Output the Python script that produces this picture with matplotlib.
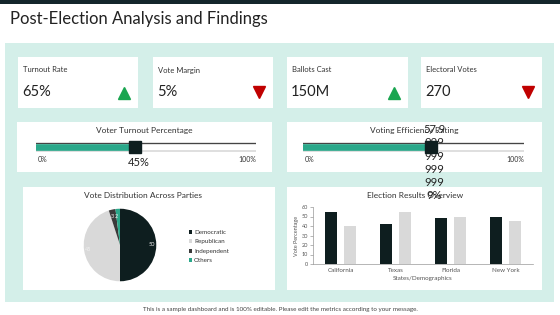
import matplotlib
matplotlib.use("Agg")
import matplotlib.pyplot as plt
from matplotlib.patches import Rectangle

plt.rcParams['font.family'] = ['Lato', 'DejaVu Sans']

# ---------------- data ----------------
title = "Post-Election Analysis and Findings"
kpi_labels = ["Turnout Rate", "Vote Margin", "Ballots Cast", "Electoral Votes"]
kpi_values = ["65%", "5%", "150M", "270"]
kpi_trend = ["up", "down", "up", "down"]

gauge_titles = ["Voter Turnout Percentage", "Voting Efficiency Rating"]
gauge_values = [45, 57.9999999999999]
gauge_texts = ["45%", "57.9\n999\n999\n999\n999\n9%"]

parties = ["Democratic", "Republican", "Independent", "Others"]
party_share = [50, 45, 3, 2]

states = ["California", "Texas", "Florida", "New York"]
series_a = [55, 42, 48, 50]
series_b = [40, 55, 50, 45]
y_ticks = [0, 10, 20, 30, 40, 50, 60]

footer = ("This is a sample dashboard and is 100% editable. "
          "Please edit the metrics according to your message.")

# ---------------- style ----------------
W, H = 560, 315
DARK = "#0e1e1f"
TEAL = "#2aa88a"
LIGHT = "#d9d9d9"
MINT = "#d4efe9"
TOPBAR = "#14262b"
GREEN = "#1aa550"
RED = "#c00000"
TXT = "#333333"

fig = plt.figure(figsize=(W / 100, H / 100), dpi=100)
bg = fig.add_axes([0, 0, 1, 1])
bg.set_xlim(0, W)
bg.set_ylim(H, 0)
bg.axis("off")


def px_axes(x0, y0, x1, y1):
    return fig.add_axes([x0 / W, 1 - y1 / H, (x1 - x0) / W, (y1 - y0) / H])


def card(x0, y0, x1, y1, color="white"):
    bg.add_patch(Rectangle((x0, y0), x1 - x0, y1 - y0, facecolor=color,
                           edgecolor="none", zorder=1))


# top bar and title
card(0, 0, W, 4, TOPBAR)
bg.text(10, 19, title, fontsize=12, color="#222222", va="center", ha="left")

# mint panel
card(5, 43, 554, 302, MINT)

# KPI cards
kpi_boxes = [(18, 138), (153, 273), (287, 408), (421, 542)]
for (x0, x1), lab, val, tr in zip(kpi_boxes, kpi_labels, kpi_values, kpi_trend):
    card(x0, 57, x1, 108)
    bg.text(x0 + 5, 70, lab, fontsize=5.5, color=TXT, va="center", ha="left", zorder=3)
    bg.text(x0 + 4, 92, val, fontsize=10.5, color="#222222", va="center",
            ha="left", zorder=3)
    if tr == "up":
        bg.plot(x1 - 14, 93, marker="^", ms=9, color=GREEN, zorder=3)
    else:
        bg.plot(x1 - 14, 92, marker="v", ms=9, color=RED, zorder=3)

# gauge cards
gauge_boxes = [(17, 272, 32, 260), (287, 542, 299, 528)]
for (cx0, cx1, tx0, tx1), gt, gv, gtxt in zip(gauge_boxes, gauge_titles,
                                            gauge_values, gauge_texts):
    card(cx0, 122, cx1, 172)
    bg.text((cx0 + cx1) / 2, 130, gt, fontsize=6, color=TXT, ha="center",
            va="center", zorder=3)
    gax = px_axes(tx0 + 4, 140, tx1 - 4, 154)
    gax.set_xlim(0, 100)
    gax.set_ylim(-1, 1)
    gax.axis("off")
    gax.plot([0, 100], [0, 0], color="#444444", lw=6, solid_capstyle="round")
    gax.plot([0, 100], [0, 0], color="white", lw=4.8, solid_capstyle="round")
    gax.plot([0, gv], [0, 0], color=TEAL, lw=4.8, solid_capstyle="round")
    gax.plot([gv], [0], marker="s", ms=8, color=DARK)
    bg.text(tx0 + 6, 160, "0%", fontsize=5, color=TXT, ha="left", va="center", zorder=3)
    bg.text(tx1 - 4, 160, "100%", fontsize=5, color=TXT, ha="right", va="center", zorder=3)

# bottom cards
card(23, 187, 275, 290)
card(287, 187, 542, 290)

# gauge value texts (drawn above everything)
gx = [32 + 4 + (260 - 32 - 8) * gauge_values[0] / 100 + 4,
      299 + 4 + (528 - 299 - 8) * gauge_values[1] / 100 + 3]
bg.text(gx[0], 163, gauge_texts[0], fontsize=8, color="#222222", ha="center",
        va="center", zorder=10)
bg.text(gx[1], 124, gauge_texts[1], fontsize=8, color="#222222", ha="center",
        va="top", zorder=10, linespacing=1.25)

# pie
bg.text(143, 196, "Vote Distribution Across Parties", fontsize=6, color=TXT,
        ha="center", va="center", zorder=3)
pax = px_axes(83, 208, 157, 282)
wedges, texts = pax.pie(party_share, labels=[str(v) for v in party_share],
                        colors=[DARK, LIGHT, "#3a3a3a", TEAL], startangle=90,
                        counterclock=False, labeldistance=0.8,
                        textprops=dict(fontsize=4, color="#f0f0f0"))
pax.set_xlim(-1.02, 1.02)
pax.set_ylim(-1.02, 1.02)
fig.legend(wedges, parties, loc="upper left", bbox_to_anchor=(183 / W, 1 - 224 / H),
           frameon=False, fontsize=4.5, handlelength=0.6, handleheight=0.6,
           handletextpad=0.3, labelspacing=0.7, labelcolor=TXT)

# bar chart
bg.text(415, 196, "Election Results Overview", fontsize=6, color=TXT,
        ha="center", va="center", zorder=3)
bax = px_axes(313, 207, 533, 264)
xs = range(len(states))
bw = 0.22
bax.bar([x - 0.18 for x in xs], series_a, width=bw, color=DARK)
bax.bar([x + 0.18 for x in xs], series_b, width=bw, color=LIGHT)
bax.set_xlim(-0.5, len(states) - 0.5)
bax.set_ylim(0, 60)
bax.set_yticks(y_ticks)
bax.set_xticks(list(xs))
bax.set_xticklabels(states)
for s in ["top", "right"]:
    bax.spines[s].set_visible(False)
for s in ["left", "bottom"]:
    bax.spines[s].set_color("#999999")
    bax.spines[s].set_linewidth(0.5)
bax.tick_params(axis="y", labelsize=4, length=2, width=0.5, color="#999999",
                labelcolor="#555555", pad=1.5)
bax.tick_params(axis="x", labelsize=4.5, length=0, labelcolor="#555555", pad=3)
bax.set_ylabel("Vote Percentage", fontsize=4, color="#555555", labelpad=2)
bax.set_xlabel("States/Demographics", fontsize=4.5, color="#555555", labelpad=2)

# footer
bg.text(W / 2, 309, footer, fontsize=4.5, color="#444444", ha="center", va="center")

fig.savefig("out.png", dpi=100)
